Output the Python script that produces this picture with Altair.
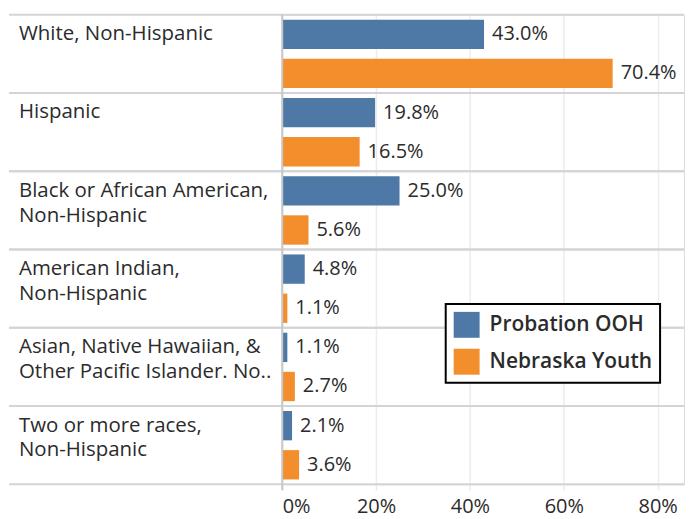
import altair as alt
import pandas as pd

categories = [
    "White, Non-Hispanic",
    "Hispanic",
    "Black or African American, Non-Hispanic",
    "American Indian, Non-Hispanic",
    "Asian, Native Hawaiian, & Other Pacific Islander. Non-Hispanic",
    "Two or more races, Non-Hispanic",
]
display_labels = [
    "White, Non-Hispanic",
    "Hispanic",
    "Black or African American,\nNon-Hispanic",
    "American Indian,\nNon-Hispanic",
    "Asian, Native Hawaiian, &\nOther Pacific Islander. No..",
    "Two or more races,\nNon-Hispanic",
]
series = ["Probation OOH", "Nebraska Youth"]
probation = [43.0, 19.8, 25.0, 4.8, 1.1, 2.1]
nebraska = [70.4, 16.5, 5.6, 1.1, 2.7, 3.6]
colors = ["#4E79A7", "#F28E2B"]
tick_values = [0, 20, 40, 60, 80]

rows = []
for c, p, n in zip(categories, probation, nebraska):
    rows.append({"cat": c, "series": series[0], "value": p})
    rows.append({"cat": c, "series": series[1], "value": n})
df = pd.DataFrame(rows)
labels_df = pd.DataFrame({"cat": categories, "label": display_labels})

W, H = 403, 471
LEFT = 274
TXT = "#2b2b2b"

y_enc = alt.Y("cat:N", sort=categories, axis=None,
              scale=alt.Scale(paddingInner=0, paddingOuter=0))
x_enc = alt.X("value:Q",
              scale=alt.Scale(domain=[0, 85.6], nice=False),
              axis=alt.Axis(values=tick_values, labelExpr="datum.value + '%'",
                            grid=True, gridColor="#ececec", gridWidth=1.5,
                            domain=False, ticks=True, tickColor="#ececec",
                            tickSize=6, tickWidth=1.5, labelFontSize=20,
                            labelColor=TXT, labelPadding=6, title=None))
yoff = alt.YOffset("series:N", sort=series,
                   scale=alt.Scale(paddingInner=0.25, paddingOuter=0.125))

base = alt.Chart(df)

bars = base.mark_bar().encode(
    x=x_enc,
    y=y_enc,
    yOffset=yoff,
    color=alt.Color("series:N", sort=series,
                    scale=alt.Scale(domain=series, range=colors),
                    legend=alt.Legend(orient="none", legendX=164, legendY=290,
                                      title=None, symbolType="square",
                                      symbolSize=676, labelFontSize=21,
                                      labelFont="Open Sans", labelFontWeight=600,
                                      labelColor=TXT, strokeColor="black",
                                      fillColor="white", padding=8,
                                      rowPadding=11, labelOffset=10,
                                      labelLimit=400,
                                      symbolStrokeWidth=0, symbolOpacity=1)),
)

values = base.transform_calculate(
    txt="format(datum.value, '.1f') + '%'"
).mark_text(align="left", baseline="middle", dx=8, fontSize=20,
            color=TXT).encode(
    x="value:Q",
    y=y_enc,
    yOffset=yoff,
    text="txt:N",
)

zero = alt.Chart(pd.DataFrame({"z": [0]})).mark_rule(
    color="#c8c8c8", strokeWidth=2).encode(x="z:Q", y=alt.value(0), y2=alt.value(H + 6))

sep_df = pd.DataFrame({"cat": categories})
sep_top = alt.Chart(sep_df).mark_rule(color="#d4d4d4", strokeWidth=2).encode(
    y=alt.Y("cat:N", sort=categories, bandPosition=0, axis=None,
            scale=alt.Scale(paddingInner=0, paddingOuter=0)),
    x=alt.value(-LEFT), x2=alt.value(W),
)
sep_bot = alt.Chart(sep_df).mark_rule(color="#d4d4d4", strokeWidth=2).encode(
    y=alt.Y("cat:N", sort=categories, bandPosition=1, axis=None,
            scale=alt.Scale(paddingInner=0, paddingOuter=0)),
    x=alt.value(-LEFT), x2=alt.value(W),
)

row_labels = alt.Chart(labels_df).mark_text(
    align="left", baseline="top", lineBreak="\n", fontSize=20.5,
    lineHeight=25, color=TXT, dy=9.5
).encode(
    y=alt.Y("cat:N", sort=categories, bandPosition=0, axis=None,
            scale=alt.Scale(paddingInner=0, paddingOuter=0)),
    x=alt.value(-LEFT + 10),
    text="label:N",
)

chart = alt.layer(sep_top, sep_bot, bars, zero, values, row_labels).properties(
    width=W, height=H,
    padding={"left": 0, "top": 5, "right": 0, "bottom": 5},
).configure_view(stroke=None).configure(font="Open Sans").configure_legend(strokeWidth=2)

chart.save("out.html", embed_options={"renderer": "svg", "actions": False})
